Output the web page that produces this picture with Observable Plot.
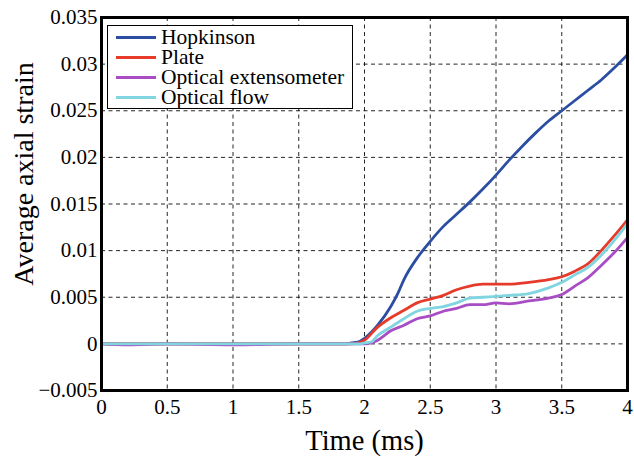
<!DOCTYPE html>
<html>
<head>
<meta charset="utf-8">
<script src="https://cdn.jsdelivr.net/npm/d3@7"></script>
<script src="https://cdn.jsdelivr.net/npm/@observablehq/plot@0.6"></script>
<style>
  body { margin: 0; background: #fff; }
  #wrap { position: relative; width: 634px; height: 456px; font-family: "Liberation Serif", "Times New Roman", "Liberation Sans", serif; }
  #legend { position: absolute; left: 107px; top: 25px; width: 246px; height: 84px; border: 1.3px solid #000; background: #fff; box-sizing: border-box; padding-top: 1px; }
  .row { display: flex; align-items: center; height: 20px; font-size: 21.5px; line-height: 20px; color: #000; }
  .sw { width: 40px; height: 3px; margin-left: 8px; margin-right: 5px; }
</style>
</head>
<body>
<div id="wrap"><div id="chart"></div><div id="legend"></div></div>
<script>
const seriesNames = ["Hopkinson", "Plate", "Optical extensometer", "Optical flow"];
const seriesColors = ["#2b4ea2", "#e63a2b", "#a84dc3", "#80d5e0"];

const hopkinsonT = [0, 0.5, 1, 1.5, 1.85, 1.9, 1.95, 2.0, 2.1, 2.2, 2.25, 2.3, 2.4, 2.5, 2.6, 2.7, 2.8, 2.9, 3.0, 3.1, 3.2, 3.3, 3.4, 3.5, 3.6, 3.7, 3.8, 3.9, 4.0];
const hopkinsonV = [0, 0, 0, 0, 0, 0.0001, 0.0002, 0.0006, 0.002, 0.004, 0.0053, 0.0069, 0.0092, 0.011, 0.0126, 0.0139, 0.0152, 0.0166, 0.0181, 0.0197, 0.0212, 0.0226, 0.0239, 0.025, 0.0261, 0.0272, 0.0283, 0.0296, 0.031];

const plateT = [0, 0.5, 1, 1.5, 1.9, 1.95, 2.0, 2.1, 2.2, 2.3, 2.4, 2.5, 2.6, 2.7, 2.8, 2.9, 3.0, 3.1, 3.25, 3.4, 3.5, 3.6, 3.7, 3.8, 3.9, 4.0];
const plateV = [0, 0, 0, 0, 0, 0.0001, 0.0004, 0.0018, 0.0028, 0.0036, 0.0044, 0.0048, 0.0052, 0.0058, 0.0062, 0.0064, 0.0064, 0.0064, 0.0066, 0.0069, 0.0072, 0.0078, 0.0086, 0.01, 0.0116, 0.0133];

const extensoT = [0, 0.2, 0.5, 1, 1.5, 1.9, 2.0, 2.05, 2.1, 2.2, 2.3, 2.4, 2.5, 2.6, 2.7, 2.8, 2.9, 3.0, 3.1, 3.25, 3.4, 3.5, 3.6, 3.7, 3.8, 3.9, 4.0];
const extensoV = [0, -0.0001, 0, -0.0001, 0, 0, 0, 0.0001, 0.0004, 0.0014, 0.002, 0.0027, 0.003, 0.0035, 0.0038, 0.0042, 0.0042, 0.0044, 0.0043, 0.0046, 0.0049, 0.0053, 0.0062, 0.0071, 0.0084, 0.0098, 0.0114];

const flowT = [0, 0.5, 1, 1.5, 1.9, 1.97, 2.0, 2.05, 2.1, 2.2, 2.3, 2.4, 2.5, 2.6, 2.7, 2.8, 2.9, 3.0, 3.1, 3.25, 3.4, 3.5, 3.6, 3.7, 3.8, 3.9, 4.0];
const flowV = [0, 0, 0, 0, 0, 0, 0.0001, 0.0002, 0.0009, 0.0018, 0.0027, 0.0035, 0.0038, 0.004, 0.0044, 0.0049, 0.005, 0.0051, 0.0052, 0.0054, 0.006, 0.0066, 0.0074, 0.0082, 0.0095, 0.0111, 0.0129];

const xTicks = [0, 0.5, 1, 1.5, 2, 2.5, 3, 3.5, 4];
const yTicks = [-0.005, 0, 0.005, 0.01, 0.015, 0.02, 0.025, 0.03, 0.035];

const allT = [hopkinsonT, plateT, extensoT, flowT];
const allV = [hopkinsonV, plateV, extensoV, flowV];
const data = [];
allT.forEach((ts, i) => ts.forEach((t, j) => data.push({t, v: allV[i][j], s: seriesNames[i]})));

const fmtY = d => d === 0 ? "0" : String(+d.toFixed(3)).replace("-", "\u2212");
const fmtX = d => String(d);
const font = "'Liberation Serif', 'Times New Roman', 'Liberation Sans', serif";

const chart = Plot.plot({
  width: 634,
  height: 456,
  marginLeft: 101,
  marginRight: 7,
  marginTop: 17,
  marginBottom: 66,
  style: { fontFamily: font, background: "#fff", color: "#000" },
  x: { domain: [0, 4] },
  y: { domain: [-0.005, 0.035] },
  color: { domain: seriesNames, range: seriesColors },
  marks: [
    Plot.ruleX(xTicks.slice(1, -1), { stroke: "#000", strokeWidth: 1, strokeDasharray: "4,3.5", strokeOpacity: 0.85 }),
    Plot.ruleY(yTicks.slice(1, -1), { stroke: "#000", strokeWidth: 1, strokeDasharray: "4,3.5", strokeOpacity: 0.85 }),
    Plot.line(data, { x: "t", y: "v", z: "s", stroke: "s", strokeWidth: 2.8, curve: "monotone-x" }),
    Plot.axisX({ ticks: xTicks, tickFormat: fmtX, tickSize: 0, tickPadding: 9, fontSize: 21, label: null }),
    Plot.axisY({ ticks: yTicks, tickFormat: fmtY, tickSize: 0, tickPadding: 4, fontSize: 21, label: null }),
    Plot.text(["Time (ms)"], { frameAnchor: "bottom", dy: 50, fontSize: 28.5, lineAnchor: "middle" }),
    Plot.text(["Average axial strain"], { frameAnchor: "left", dx: -77, dy: -30, rotate: -90, fontSize: 28, textAnchor: "middle" }),
    Plot.frame({ stroke: "#000", strokeWidth: 3 })
  ]
});
document.getElementById("chart").appendChild(chart);

const legend = document.getElementById("legend");
seriesNames.forEach((n, i) => {
  const row = document.createElement("div");
  row.className = "row";
  const sw = document.createElement("span");
  sw.className = "sw";
  sw.style.background = seriesColors[i];
  const tx = document.createElement("span");
  tx.textContent = n;
  row.appendChild(sw);
  row.appendChild(tx);
  legend.appendChild(row);
});
</script>
</body>
</html>
